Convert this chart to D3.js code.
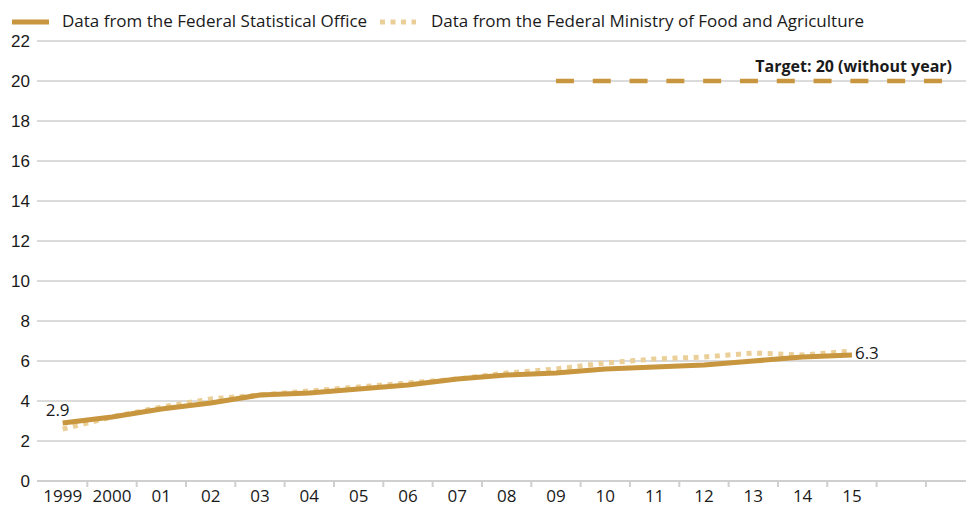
<!DOCTYPE html>
<html>
<head>
<meta charset="utf-8">
<script src="https://cdn.jsdelivr.net/npm/d3@7"></script>
<style>
	body { margin: 0; background: #fff; }
	svg { display: block; font-family: "Open Sans", Lato, sans-serif; }
	.tick-label { font-size: 17px; fill: #1a1a1a; }
</style>
</head>
<body>
<div id="chart"></div>
<script>
// categories (last two are empty slots on the axis)
var years = ['1999', '2000', '01', '02', '03', '04', '05', '06', '07', '08',
	'09', '10', '11', '12', '13', '14', '15', '16', '17']
var yearLabels = ['1999', '2000', '01', '02', '03', '04', '05', '06', '07', '08',
	'09', '10', '11', '12', '13', '14', '15', '', '']
var statOffice = [2.9, 3.2, 3.6, 3.9, 4.3, 4.4, 4.6, 4.8, 5.1, 5.3,
	5.4, 5.6, 5.7, 5.8, 6.0, 6.2, 6.3]
var ministry = [2.6, 3.2, 3.7, 4.1, 4.3, 4.5, 4.7, 4.9, 5.1, 5.4,
	5.6, 5.9, 6.1, 6.2, 6.4, 6.3, 6.5]
var yTicks = [0, 2, 4, 6, 8, 10, 12, 14, 16, 18, 20, 22]
var target = 20
var targetFrom = '09', targetTo = '17'
var seriesNames = ['Data from the Federal Statistical Office', 'Data from the Federal Ministry of Food and Agriculture']

var width = 966, height = 506
var dark = '#c8963e', light = '#ebcf98', grid = '#cfcfcf'

var svg = d3.select('#chart').append('svg')
	.attr('width', width)
	.attr('height', height)

var x = d3.scaleBand()
	.domain(years)
	.range([38, 38 + 19 * 49.33])

var y = d3.scaleLinear()
	.domain([0, 22])
	.range([481, 41])

/* gridlines + y labels */
var yAxis = d3.axisLeft(y).tickValues(yTicks).tickSize(0).tickPadding(0)
var yAxisG = svg.append('g')
	.attr('transform', 'translate(30,0)')
	.call(yAxis)
yAxisG.select('.domain').remove()
yAxisG.selectAll('text')
	.attr('class', 'tick-label')
	.attr('font-family', null)
	.attr('font-size', null)
	.attr('dy', '0.35em')

svg.append('g').selectAll('line')
	.data(yTicks)
	.join('line')
	.attr('x1', 37).attr('x2', width)
	.attr('y1', function(d) { return y(d) }).attr('y2', function(d) { return y(d) })
	.attr('stroke', grid)
	.attr('stroke-width', function(d) { return d === 0 ? 2 : 1.6 })

/* x axis: ticks between categories, labels centered */
var boundaries = years.slice(1)
svg.append('g').selectAll('line')
	.data(boundaries)
	.join('line')
	.attr('x1', function(d) { return x(d) }).attr('x2', function(d) { return x(d) })
	.attr('y1', 481).attr('y2', 487)
	.attr('stroke', grid)
	.attr('stroke-width', 2)

svg.append('g').selectAll('text')
	.data(years)
	.join('text')
	.attr('class', 'tick-label')
	.attr('x', function(d) { return x(d) + x.bandwidth() / 2 })
	.attr('y', 502)
	.attr('text-anchor', 'middle')
	.text(function(d, i) { return yearLabels[i] })

/* target line */
svg.append('line')
	.attr('x1', x(targetFrom) + x.bandwidth() / 2)
	.attr('x2', x(targetTo) + x.bandwidth() / 2)
	.attr('y1', y(target)).attr('y2', y(target))
	.attr('stroke', dark)
	.attr('stroke-width', 4.5)
	.attr('stroke-dasharray', '18,18.8')

svg.append('text')
	.attr('x', 952)
	.attr('y', y(target) - 9)
	.attr('text-anchor', 'end')
	.attr('font-size', 16)
	.attr('font-weight', 'bold')
	.attr('fill', '#1a1a1a')
	.text('Target: ' + target + ' (without year)')

/* series */
var line = d3.line()
	.x(function(d, i) { return x(years[i]) + x.bandwidth() / 2 })
	.y(function(d) { return y(d) })

svg.append('path')
	.datum(ministry)
	.attr('d', line)
	.attr('fill', 'none')
	.attr('stroke', light)
	.attr('stroke-width', 5)
	.attr('stroke-dasharray', '5,5.6')

svg.append('path')
	.datum(statOffice)
	.attr('d', line)
	.attr('fill', 'none')
	.attr('stroke', dark)
	.attr('stroke-width', 5)
	.attr('stroke-linejoin', 'round')

/* end labels */
var last = statOffice.length - 1
svg.append('text')
	.attr('class', 'tick-label')
	.attr('x', x(years[0]) + x.bandwidth() / 2 - 17)
	.attr('y', y(statOffice[0]) - 7)
	.text(statOffice[0].toFixed(1))

svg.append('text')
	.attr('class', 'tick-label')
	.attr('x', x(years[last]) + x.bandwidth() / 2 + 3)
	.attr('y', y(statOffice[last]) + 4)
	.text(statOffice[last].toFixed(1))

/* legend */
var legend = svg.append('g')
legend.append('line')
	.attr('x1', 12).attr('x2', 49).attr('y1', 22).attr('y2', 22)
	.attr('stroke', dark).attr('stroke-width', 5)
legend.append('text')
	.attr('class', 'tick-label')
	.attr('x', 62).attr('y', 27)
	.text(seriesNames[0])
legend.append('line')
	.attr('x1', 380).attr('x2', 416).attr('y1', 22).attr('y2', 22)
	.attr('stroke', light).attr('stroke-width', 5)
	.attr('stroke-dasharray', '5,5.5')
legend.append('text')
	.attr('class', 'tick-label')
	.attr('x', 431).attr('y', 27)
	.text(seriesNames[1])
</script>
</body>
</html>
